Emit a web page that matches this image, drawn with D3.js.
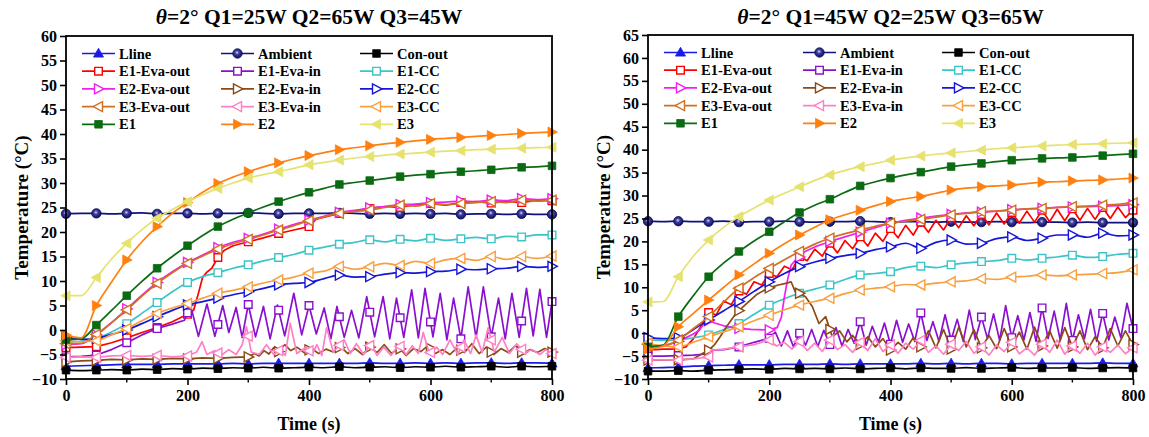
<!DOCTYPE html>
<html><head><meta charset="utf-8">
<script src="https://cdn.jsdelivr.net/npm/d3@7"></script>
<style>
html,body{margin:0;padding:0;background:#fff;}
svg text{font-family:"Liberation Serif","Times New Roman",serif;font-weight:bold;fill:#000;}
</style></head><body>
<svg id="chart" width="1149" height="437" font-family="Liberation Serif, Times New Roman, serif"></svg>
<script>
// ---------- time grids (s) ----------
const T25 = d3.range(0, 801, 25);
const T12 = d3.range(0, 801, 12.5);

// ---------- left panel: Q1=25W Q2=65W Q3=45W ----------
const L_lline   = [-7.4,-7.3,-7.2,-7.1,-7.0,-7.0,-7.0,-6.9,-6.9,-6.9,-6.9,-6.8,-6.9,-6.8,-6.8,-6.8,-6.8,-6.8,-6.8,-6.8,-6.7,-6.8,-6.8,-6.7,-6.8,-6.7,-6.8,-6.7,-6.7,-6.8,-6.7,-6.7,-6.8];
const L_ambient = [23.7,23.8,23.8,23.7,23.8,23.9,23.7,23.8,23.8,23.7,23.8,23.8,23.9,23.8,23.7,23.8,23.8,23.8,23.9,23.8,23.7,23.8,23.7,23.8,23.7,23.8,23.6,23.7,23.7,23.6,23.7,23.6,23.6];
const L_conout  = [-8.2,-8.3,-8.2,-8.1,-8.2,-8.0,-8.1,-7.9,-8.0,-7.8,-7.9,-7.7,-7.8,-7.6,-7.8,-7.7,-7.6,-7.7,-7.5,-7.7,-7.6,-7.5,-7.7,-7.5,-7.6,-7.4,-7.6,-7.5,-7.4,-7.6,-7.4,-7.5,-7.4];
const L_e1EvaOut_t = [0,25,50,75,100,125,150,175,200,210,218,225,232,240,250,260,275,300,325,350,375,400,412,425,450,475,500,525,550,575,600,625,650,675,700,725,750,775,800];
const L_e1EvaOut   = [-3.6,-3.5,-3.4,-2.6,-1.6,-0.5,0.5,1.7,3.2,4.0,7.5,10.8,11.8,12.6,14.8,16.2,17.2,18.0,18.8,19.7,20.4,21.1,22.6,23.0,23.8,24.3,24.8,25.2,25.0,25.6,25.8,25.5,26.0,26.2,25.9,26.3,26.0,26.5,26.4];
const L_e1EvaIn_t = [0,25,50,75,100,125,150,175,195,205,218,232,245,258,268,280,290,300,312,325,336,348,360,375,388,400,412,425,436,446,458,470,482,495,508,522,533,544,556,569,580,591,604,616,627,638,650,662,675,687,700,712,723,734,746,758,769,780,791,800];
const L_e1EvaIn   = [-5.5,-5.4,-5.1,-4.0,-2.6,-1.0,0.3,1.2,2.0,5.0,-1.3,5.3,-1.3,5.0,-0.5,4.6,-1.5,5.2,-1.4,4.8,-1.8,5.1,-1.2,7.5,-1.0,5.0,-0.8,4.5,-1.8,4.8,-1.5,4.0,-1.6,6.8,-1.4,6.8,-1.8,6.5,-1.5,8.2,-1.6,8.5,-1.4,7.5,-2.0,6.5,-1.8,8.8,-1.6,8.8,-1.4,6.5,-1.8,7.5,-1.5,8.5,-1.2,8.3,-1.5,5.8];
const L_e1CC      = [-2.5,-2.3,-1.7,-0.4,1.3,3.4,5.6,7.8,9.7,10.9,11.7,12.6,13.3,14.1,14.8,15.4,16.3,16.9,17.5,17.9,18.4,18.0,18.5,18.2,18.7,18.3,18.6,18.9,18.6,19.1,19.0,19.4,19.4];
const L_e2EvaOut  = [-3.0,-2.8,-1.0,1.5,4.3,7.1,9.7,11.9,13.8,15.3,16.8,17.9,18.7,19.6,20.6,21.5,22.4,23.2,24.0,24.4,24.9,25.2,25.6,25.7,26.0,26.1,26.3,26.2,26.5,26.4,26.8,26.6,26.8];
const L_e2EvaIn_t = [0,25,50,75,100,125,150,175,200,225,250,275,300,310,318,326,334,342,350,360,370,380,392,404,416,428,440,452,464,476,488,500,512,524,536,548,560,572,584,596,608,620,632,644,656,668,680,692,704,716,728,740,752,764,776,788,800];
const L_e2EvaIn   = [-6.5,-6.3,-6.2,-6.0,-6.1,-5.9,-6.0,-5.8,-5.9,-5.7,-5.8,-5.6,-5.5,-4.8,-5.3,-4.2,-4.9,-3.6,-4.4,-3.0,-4.2,-3.5,-4.6,-3.8,-4.8,-3.9,-4.5,-3.4,-4.8,-3.8,-5.0,-3.5,-4.6,-3.0,-4.8,-3.6,-5.2,-3.8,-4.4,-3.2,-4.8,-4.0,-5.0,-3.6,-4.6,-2.8,-4.8,-3.5,-5.0,-3.8,-4.6,-3.2,-4.8,-4.0,-4.6,-3.8,-4.5];
const L_e2CC      = [-1.5,-1.9,-1.7,-0.9,0.0,1.3,2.7,4.0,5.1,5.8,6.5,7.2,7.8,8.5,9.2,9.5,9.7,10.5,11.2,10.8,10.9,11.4,11.7,11.6,11.9,12.0,12.4,12.3,12.5,12.6,13.0,12.8,13.0];
const L_e3EvaOut  = [-2.8,-2.7,-0.9,1.5,4.1,6.9,9.5,11.7,13.6,15.1,16.5,17.6,18.5,19.4,20.4,21.3,22.3,23.1,23.8,24.2,24.5,25.0,25.5,25.3,25.8,25.6,25.8,26.0,26.2,26.0,26.5,26.3,26.5];
const L_e3EvaIn_t = [0,25,50,75,100,125,150,175,200,215,224,232,245,255,268,280,290,297,305,318,330,342,352,361,369,380,395,405,413,421,429,440,458,468,478,490,502,512,523,535,548,560,570,580,588,598,610,620,632,645,655,666,675,685,695,705,718,730,742,755,767,780,790,800];
const L_e3EvaIn   = [-5.6,-5.5,-5.6,-5.3,-5.2,-5.4,-5.2,-5.5,-5.3,-4.5,-2.4,-5.0,-4.2,-5.2,-4.0,-5.0,-3.0,0.7,-4.5,-5.0,-3.0,-5.0,-4.0,-5.2,1.4,-4.8,-3.5,-5.0,-3.0,-5.2,0.5,-4.5,-2.0,-4.8,-2.8,-5.0,-2.8,-5.2,-3.5,-5.2,-3.0,-5.0,-3.2,-4.8,-0.5,-4.8,-3.5,-5.0,-2.0,-5.0,-2.0,-4.8,-1.0,-4.6,0.5,-4.5,-1.5,-4.8,-2.8,-4.7,-4.0,-5.0,-4.0,-4.8];
const L_e3CC      = [-2.2,-2.4,-2.2,-1.0,0.3,1.9,3.4,4.5,5.4,6.5,7.5,8.1,8.8,9.6,10.2,10.8,11.6,12.0,13.0,12.4,12.9,13.6,13.2,14.0,13.6,14.3,14.6,14.2,15.0,14.4,15.0,14.6,15.1];
const L_e1        = [-2.0,-1.8,1.0,4.0,7.0,9.9,12.6,15.0,17.2,19.3,21.1,22.6,23.9,25.1,26.2,27.2,28.1,28.9,29.7,30.1,30.5,30.9,31.3,31.6,31.8,32.1,32.3,32.5,32.7,33.0,33.2,33.3,33.5];
const L_e2        = [-1.0,-1.6,5.0,9.8,14.3,18.0,21.1,23.8,26.0,28.1,29.9,31.2,32.3,33.3,34.1,34.9,35.6,36.2,36.8,37.2,37.6,38.0,38.3,38.6,38.9,39.1,39.3,39.5,39.7,39.9,40.1,40.3,40.4];
const L_e3        = [7.0,7.0,10.7,14.5,17.7,20.5,22.8,24.6,26.2,27.6,28.9,30.0,31.0,31.7,32.3,33.0,33.7,34.2,34.7,35.1,35.4,35.7,35.9,36.1,36.3,36.5,36.6,36.8,36.9,37.0,37.1,37.2,37.3];

// ---------- right panel: Q1=45W Q2=25W Q3=65W ----------
const R_lline   = [-7.6,-7.5,-7.4,-7.2,-7.1,-7.0,-6.9,-6.9,-6.9,-6.8,-6.8,-6.8,-6.7,-6.8,-6.7,-6.7,-6.7,-6.7,-6.6,-6.7,-6.6,-6.7,-6.6,-6.6,-6.7,-6.6,-6.6,-6.6,-6.6,-6.6,-6.5,-6.6,-6.6];
const R_ambient = [24.4,24.3,24.4,24.3,24.3,24.4,24.2,24.3,24.3,24.4,24.3,24.2,24.3,24.3,24.4,24.3,24.2,24.3,24.3,24.2,24.3,24.2,24.2,24.3,24.2,24.1,24.2,24.2,24.1,24.2,24.1,24.1,24.1];
const R_conout  = [-8.3,-8.3,-8.2,-8.3,-8.1,-8.0,-7.9,-7.8,-7.9,-7.7,-7.8,-7.7,-7.8,-7.6,-7.8,-7.7,-7.6,-7.8,-7.6,-7.7,-7.7,-7.5,-7.7,-7.6,-7.5,-7.7,-7.6,-7.6,-7.5,-7.7,-7.6,-7.5,-7.6];
const R_e1EvaOut = [-3.6,-3.6,-3.5,-3.5,-3.4,-3.0,-1.2,1.5,4.5,4.0,7.0,6.2,9.2,8.5,11.2,10.5,13.0,12.3,14.6,13.8,16.7,15.8,18.3,16.8,19.6,17.5,20.2,18.4,21.0,19.0,21.8,20.0,22.8,20.8,23.5,21.4,24.2,22.0,24.6,22.5,25.2,23.0,25.6,23.4,25.9,23.6,26.2,23.8,26.3,24.0,26.6,24.2,26.8,24.3,27.0,24.5,27.1,24.6,27.2,24.8,27.4,25.0,27.5,25.2,26.8];
const R_e1EvaIn_t = [0,25,50,75,100,104,125,150,175,200,210,220,230,240,250,260,270,280,290,300,310,320,330,340,350,360,370,380,390,400,410,420,430,440,450,460,470,480,490,500,510,520,530,540,550,560,570,580,590,600,610,620,630,640,650,660,670,680,690,700,710,720,730,740,750,760,770,780,790,800];
const R_e1EvaIn   = [-5.0,-5.0,-4.9,-4.8,-4.5,-3.7,-3.6,-3.0,-2.0,-1.1,0.2,-2.8,0.5,-3.0,0.0,-2.6,0.8,-2.9,0.6,-2.5,1.2,-2.8,0.8,-2.2,2.5,-2.6,1.5,-2.0,2.2,-2.4,2.8,-2.0,2.0,-1.8,4.4,-1.6,2.5,-1.8,4.0,-1.5,3.0,-1.8,5.0,-1.4,3.5,-1.2,4.2,-1.6,6.0,-1.0,3.8,-1.5,4.5,-1.8,5.5,-1.2,4.8,-1.5,6.5,-1.6,4.0,-1.2,5.2,-1.8,4.3,-1.5,3.5,-1.0,6.5,1.0];
const R_e1CC      = [-1.5,-1.6,-1.5,-1.0,-0.4,0.8,2.1,4.1,6.1,7.5,8.7,9.6,10.5,11.7,12.7,13.0,13.4,14.3,14.6,14.3,14.9,15.3,15.6,15.8,16.3,15.9,16.3,16.6,17.0,16.5,16.7,17.2,17.4];
const R_e2EvaOut_t = [0,25,50,75,85,97,110,125,145,170,200,213,220,225,230,236,243,250,259,275,292,300,325,350,375,400,425,450,475,500,525,550,575,600,625,650,675,700,725,750,775,800];
const R_e2EvaOut   = [-3.0,-2.8,-1.8,-0.2,0.7,2.9,2.2,1.6,1.1,0.8,0.7,1.2,3.5,7.9,11.5,14.8,15.9,16.6,17.8,18.8,19.6,20.0,21.0,22.0,23.0,24.0,24.6,25.1,25.5,25.9,26.2,26.4,26.6,26.9,27.1,27.2,27.4,27.5,27.6,27.7,27.8,28.0];
const R_e2EvaIn_t = [0,25,50,75,100,110,119,130,145,163,180,198,215,229,236,243,252,260,271,282,293,304,316,328,337.5,350,362.5,375,387.5,400,412.5,425,437.5,450,462.5,475,487.5,500,512.5,525,537.5,550,562.5,575,587.5,600,612.5,625,637.5,650,662.5,675,687.5,700,712.5,725,737.5,750,762.5,775,787.5,800];
const R_e2EvaIn   = [-5.9,-5.9,-5.8,-5.6,-3.7,-2.5,-0.8,1.5,4.3,6.5,8.5,9.8,10.5,10.9,11.2,9.0,8.6,7.9,5.8,2.1,3.6,-0.8,0.5,-1.9,-0.5,-2.5,-0.8,-3.0,-1.2,-3.7,-2.0,-3.5,-1.0,-3.0,0.5,-3.2,0.8,-3.5,1.3,-3.0,0.8,-3.2,-0.5,-3.4,1.0,-3.0,0.2,-3.5,1.3,-2.8,0.5,-3.3,1.2,-3.0,0.5,-3.6,-0.8,-3.2,1.0,-2.8,0.5,-2.5];
const R_e2CC      = [-1.0,-1.2,-1.0,0.8,2.9,4.9,6.9,9.1,11.2,13.0,14.5,15.5,16.3,16.9,17.4,18.2,18.8,19.6,18.5,19.8,20.3,19.4,19.6,20.6,21.0,20.2,20.7,21.4,21.4,20.9,21.8,21.2,21.4];
const R_e3EvaOut  = [-2.5,-2.8,-1.5,1.0,3.6,6.8,9.8,12.1,14.1,16.0,17.8,19.4,20.7,21.7,22.5,23.3,24.0,24.4,24.8,25.3,25.8,26.1,26.5,26.6,26.8,27.1,27.2,27.4,27.6,27.7,27.9,28.1,28.4];
const R_e3EvaIn_t = [0,25,50,75,100,104,125,150,175,200,212,225,237.5,250,262.5,275,287.5,300,312.5,325,337.5,350,362.5,375,387.5,400,412.5,425,437.5,450,462.5,475,487.5,500,512.5,525,537.5,550,562.5,575,587.5,600,612.5,625,637.5,650,662.5,675,687.5,700,712.5,725,737.5,750,762.5,775,787.5,800];
const R_e3EvaIn   = [-5.9,-5.8,-5.9,-5.6,-5.2,-3.7,-3.5,-3.0,-2.5,-1.5,-2.8,-2.0,-3.5,-1.8,-3.8,-2.2,-4.0,-1.5,-3.6,-2.5,-4.2,-2.0,-3.8,-1.2,-4.0,-2.6,-4.4,-2.2,-3.5,-1.6,-4.2,-2.8,-4.6,-2.4,-3.8,-1.8,-4.4,-3.0,-4.8,-2.6,-4.0,-2.0,-4.5,-3.2,-4.8,-2.4,-4.2,-1.5,-4.6,-2.8,-4.4,-2.2,-4.8,-3.0,-4.2,-2.6,-4.5,-3.2];
const R_e3CC      = [-2.2,-2.8,-3.0,-2.0,-0.8,0.3,1.4,2.7,3.9,5.1,6.1,6.9,7.6,8.6,9.4,9.8,10.1,10.6,10.5,10.9,11.2,11.4,11.9,11.7,12.2,12.4,12.7,12.5,12.7,12.8,13.0,13.2,13.8];
const R_e1        = [-3.0,-2.6,3.6,8.2,12.3,15.3,17.8,20.1,22.1,24.3,26.3,27.9,29.2,30.7,32.1,33.0,33.8,34.5,35.1,35.7,36.3,36.7,37.0,37.4,37.7,37.9,38.1,38.2,38.3,38.5,38.7,38.9,39.1];
const R_e2        = [-3.5,-2.8,1.4,4.3,7.2,10.0,12.7,15.1,17.4,19.5,21.4,23.1,24.7,25.8,26.8,27.8,28.7,29.3,29.8,30.5,31.2,31.6,31.9,32.1,32.3,32.6,32.9,33.0,33.2,33.3,33.4,33.6,33.8];
const R_e3        = [6.8,6.9,12.3,16.8,20.3,23.1,25.4,27.3,29.0,30.5,31.9,33.3,34.5,35.5,36.3,37.0,37.7,38.2,38.6,39.0,39.3,39.6,39.9,40.2,40.4,40.6,40.8,41.0,41.1,41.2,41.3,41.4,41.5];

// ---------- axis ticks / labels ----------
const xMajorTicks = [0, 200, 400, 600, 800];
const xMinorTicks = [100, 300, 500, 700];
const seriesNames = ["Lline","Ambient","Con-out","E1-Eva-out","E1-Eva-in","E1-CC","E2-Eva-out","E2-Eva-in","E2-CC","E3-Eva-out","E3-Eva-in","E3-CC","E1","E2","E3"];

// ---------- series appearance (same order as seriesNames) ----------
const seriesStyle = [
  {color:"#1a1ae8", marker:"triUp",    filled:true},
  {color:"#101080", marker:"ball",     filled:true},
  {color:"#000000", marker:"square",   filled:true},
  {color:"#ff0000", marker:"square",   filled:false},
  {color:"#8a10d0", marker:"square",   filled:false},
  {color:"#3cc4c8", marker:"square",   filled:false},
  {color:"#f020f0", marker:"triRight", filled:false},
  {color:"#8b4a16", marker:"triRight", filled:false},
  {color:"#1616d8", marker:"triRight", filled:false},
  {color:"#d07020", marker:"triLeft",  filled:false},
  {color:"#ff80c4", marker:"triLeft",  filled:false},
  {color:"#f8a040", marker:"triLeft",  filled:false},
  {color:"#0b6b12", marker:"square",   filled:true},
  {color:"#ff8010", marker:"triRight", filled:true},
  {color:"#e6e270", marker:"triLeft",  filled:true}
];

const FONT = "Liberation Serif, Times New Roman, serif";

const panels = [
  {
    titleRest: "=2° Q1=25W Q2=65W Q3=45W",
    box: {x0: 66, x1: 552, y0: 36, y1: 379},
    yDomain: [-10, 60], yLabelX: 21,
    series: [
      {t:T25, v:L_lline}, {t:T25, v:L_ambient}, {t:T25, v:L_conout},
      {t:L_e1EvaOut_t, v:L_e1EvaOut, raw:true}, {t:L_e1EvaIn_t, v:L_e1EvaIn, raw:true}, {t:T25, v:L_e1CC},
      {t:T25, v:L_e2EvaOut}, {t:L_e2EvaIn_t, v:L_e2EvaIn, raw:true}, {t:T25, v:L_e2CC},
      {t:T25, v:L_e3EvaOut}, {t:L_e3EvaIn_t, v:L_e3EvaIn, raw:true}, {t:T25, v:L_e3CC},
      {t:T25, v:L_e1}, {t:T25, v:L_e2}, {t:T25, v:L_e3}
    ]
  },
  {
    titleRest: "=2° Q1=45W Q2=25W Q3=65W",
    box: {x0: 648, x1: 1133, y0: 35, y1: 379},
    yDomain: [-10, 65], yLabelX: 603,
    series: [
      {t:T25, v:R_lline}, {t:T25, v:R_ambient}, {t:T25, v:R_conout},
      {t:T12, v:R_e1EvaOut, raw:true}, {t:R_e1EvaIn_t, v:R_e1EvaIn, raw:true}, {t:T25, v:R_e1CC},
      {t:R_e2EvaOut_t, v:R_e2EvaOut, raw:true}, {t:R_e2EvaIn_t, v:R_e2EvaIn, raw:true}, {t:T25, v:R_e2CC},
      {t:T25, v:R_e3EvaOut}, {t:R_e3EvaIn_t, v:R_e3EvaIn, raw:true}, {t:T25, v:R_e3CC},
      {t:T25, v:R_e1}, {t:T25, v:R_e2}, {t:T25, v:R_e3}
    ]
  }
];

const svg = d3.select("#chart");
const defs = svg.append("defs");
const grad = defs.append("radialGradient").attr("id", "ballFill")
  .attr("cx", "45%").attr("cy", "40%").attr("r", "60%");
grad.append("stop").attr("offset", "0%").attr("stop-color", "#d8d8f0");
grad.append("stop").attr("offset", "35%").attr("stop-color", "#4040a0");
grad.append("stop").attr("offset", "100%").attr("stop-color", "#0a0a60");

// marker glyph paths centred on the origin
function markerPath(kind) {
  switch (kind) {
    case "triUp":    return "M0,-5.2L5,3.6L-5,3.6Z";
    case "triRight": return "M5.4,0L-4,-5L-4,5Z";
    case "triLeft":  return "M-5.4,0L4,-5L4,5Z";
    case "square":   return "M-3.8,-3.8H3.8V3.8H-3.8Z";
    default: return null;
  }
}

function drawMarker(g, style, cx, cy) {
  if (style.marker === "ball") {
    g.append("circle").attr("cx", cx).attr("cy", cy).attr("r", 4.7)
      .attr("fill", "url(#ballFill)").attr("stroke", "#0a0a50").attr("stroke-width", 0.8);
    return;
  }
  g.append("path").attr("d", markerPath(style.marker))
    .attr("transform", `translate(${cx},${cy})`)
    .attr("fill", style.filled ? style.color : "#fff")
    .attr("stroke", style.color)
    .attr("stroke-width", style.filled ? 0.8 : 1.4)
    .attr("stroke-linejoin", "miter");
}

function valueAt(ts, vs, t) {
  const i = d3.bisectLeft(ts, t);
  if (i <= 0) return vs[0];
  if (i >= ts.length) return vs[vs.length - 1];
  if (ts[i] === t) return vs[i];
  const f = (t - ts[i - 1]) / (ts[i] - ts[i - 1]);
  return vs[i - 1] + f * (vs[i] - vs[i - 1]);
}

function txt(sel, size) {
  return sel.attr("font-family", FONT).attr("font-weight", "bold").attr("font-size", size);
}

panels.forEach(p => {
  const b = p.box;
  const x = d3.scaleLinear().domain([0, 800]).range([b.x0, b.x1]);
  const y = d3.scaleLinear().domain(p.yDomain).range([b.y1, b.y0]);
  const g = svg.append("g");

  // series lines then markers
  p.series.forEach((s, k) => {
    const st = seriesStyle[k];
    const pts = s.t.map((t, i) => [t, s.v[i]]).filter(d => d[1] !== undefined);
    const line = d3.line().x(d => x(d[0])).y(d => y(d[1]))
      .curve(s.raw ? d3.curveLinear : d3.curveMonotoneX);
    const sg = g.append("g");
    sg.append("path").attr("d", line(pts)).attr("fill", "none")
      .attr("stroke", st.color).attr("stroke-width", 1.7).attr("stroke-linejoin", "round");
    const ts = pts.map(d => d[0]), vs = pts.map(d => d[1]);
    d3.range(0, 801, 50).forEach(t => drawMarker(sg, st, x(t), y(valueAt(ts, vs, t))));
  });

  // frame
  g.append("rect").attr("x", b.x0).attr("y", b.y0)
    .attr("width", b.x1 - b.x0).attr("height", b.y1 - b.y0)
    .attr("fill", "none").attr("stroke", "#000").attr("stroke-width", 1.8);

  // y axis
  const yTicks = d3.range(p.yDomain[0], p.yDomain[1] + 1, 5);
  const ya = g.append("g").attr("transform", `translate(${b.x0},0)`)
    .call(d3.axisLeft(y).tickValues(yTicks).tickSize(6).tickPadding(3).tickFormat(d3.format("d")));
  ya.attr("font-family", FONT);
  ya.select(".domain").remove();
  ya.selectAll("line").attr("stroke-width", 1.6);
  txt(ya.selectAll("text"), 16);

  // x axis
  const xa = g.append("g").attr("transform", `translate(0,${b.y1})`)
    .call(d3.axisBottom(x).tickValues(xMajorTicks).tickSize(6).tickPadding(5));
  xa.attr("font-family", FONT);
  xa.select(".domain").remove();
  xa.selectAll("line").attr("stroke-width", 1.6);
  txt(xa.selectAll("text"), 16);
  xMinorTicks.forEach(t => g.append("line").attr("x1", x(t)).attr("x2", x(t))
    .attr("y1", b.y1).attr("y2", b.y1 + 3.5).attr("stroke", "#000").attr("stroke-width", 1.4));

  // titles
  const cx = (b.x0 + b.x1) / 2;
  const title = txt(g.append("text"), 21.5).attr("x", cx).attr("y", 24)
    .attr("text-anchor", "middle");
  title.append("tspan").attr("font-style", "italic").text("θ");
  title.append("tspan").text(p.titleRest);
  txt(g.append("text"), 18).attr("x", cx).attr("y", 430).attr("text-anchor", "middle")
    .text("Time (s)");
  txt(g.append("text"), 19)
    .attr("transform", `translate(${p.yLabelX},${(b.y0 + b.y1) / 2}) rotate(-90)`)
    .attr("text-anchor", "middle").attr("dominant-baseline", "central")
    .text("Temperature (°C)");

  // legend: 3 columns x 5 rows
  const lg = g.append("g");
  seriesNames.forEach((name, k) => {
    const col = k % 3, row = Math.floor(k / 3);
    const lx = b.x0 + 16 + col * 139;
    const ly = b.y0 + 17.5 + row * 17.7;
    const st = seriesStyle[k];
    lg.append("line").attr("x1", lx).attr("x2", lx + 33).attr("y1", ly).attr("y2", ly)
      .attr("stroke", st.color).attr("stroke-width", 1.7);
    drawMarker(lg, st, lx + 16.5, ly);
    txt(lg.append("text"), 14.5).attr("x", lx + 37).attr("y", ly).attr("dominant-baseline", "central")
      .text(name);
  });
});
</script>
</body></html>
